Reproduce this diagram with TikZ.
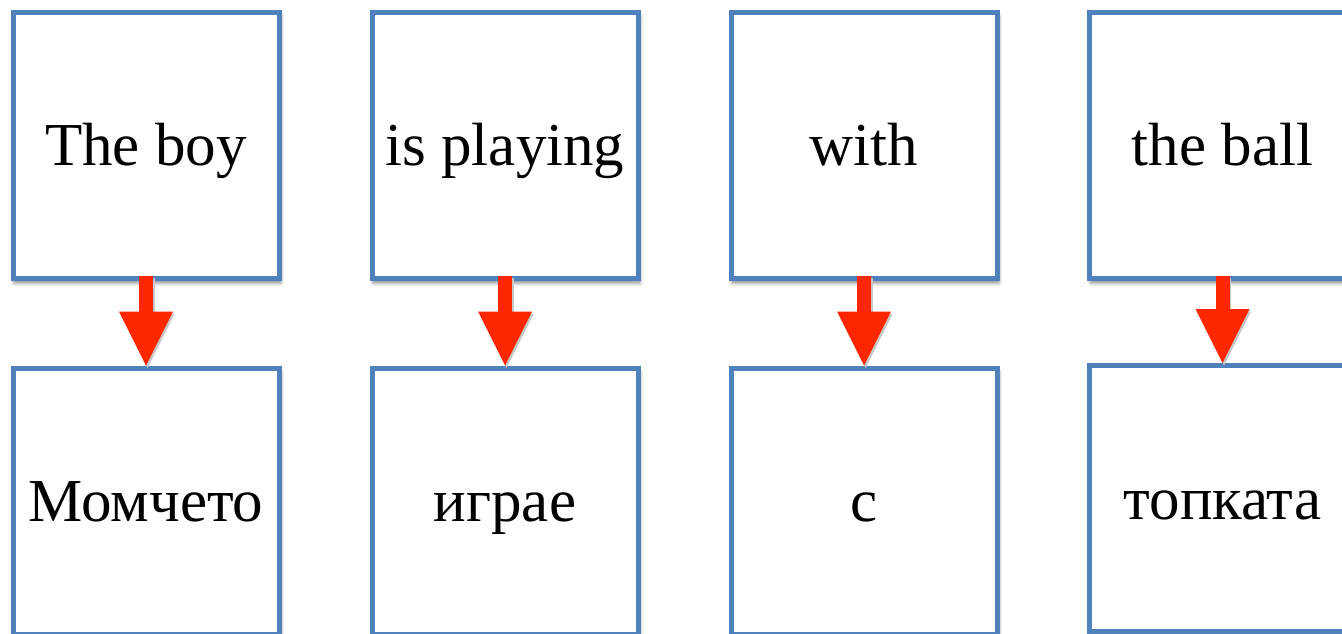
\documentclass[tikz,border=0pt]{standalone}
\usepackage{fontspec}
\setmainfont{Liberation Serif}
\usetikzlibrary{arrows.meta,shadows.blur}
\definecolor{boxblue}{RGB}{79,129,189}
\definecolor{arrowred}{RGB}{255,38,0}
\tikzset{
  x=1pt, y=-1pt,
  wordbox/.style={draw=boxblue, line width=5pt, fill=white, rectangle,
    minimum width=266pt, minimum height=266pt, inner sep=0pt,
    text height=41pt, text depth=0pt,
    font=\fontsize{61}{70}\selectfont,
    blur shadow={shadow xshift=1.5pt, shadow yshift=-4.5pt, shadow blur radius=4pt,
      shadow blur steps=8, shadow opacity=55}},
  transarrow/.style={draw=arrowred, line width=14pt,
    -{Triangle[width=54pt, length=54pt, line width=0pt]},
    shorten <=-5pt,
    preaction={draw=black!22, line width=14pt, transform canvas={shift={(1.5pt,-2.5pt)}}}}
}
\begin{document}
\begin{tikzpicture}
\useasboundingbox (0,0) rectangle (1342,633);
% source phrases
\node[wordbox] (t1) at (146,145)    {The boy};
\node[wordbox] (t2) at (505,145)    {is playing};
\node[wordbox] (t3) at (864,145)    {with};
\node[wordbox] (t4) at (1222.5,145) {the ball};
% translations
\node[wordbox] (b1) at (146,501)    {Момчето};
\node[wordbox] (b2) at (505,501)    {играе};
\node[wordbox] (b3) at (864,501)    {с};
\node[wordbox] (b4) at (1222.5,498.5) {топката};
% word-for-word arrows
\foreach \i in {1,2,3,4}
  \draw[transarrow] (t\i.south) -- (b\i.north);
\end{tikzpicture}
\end{document}
